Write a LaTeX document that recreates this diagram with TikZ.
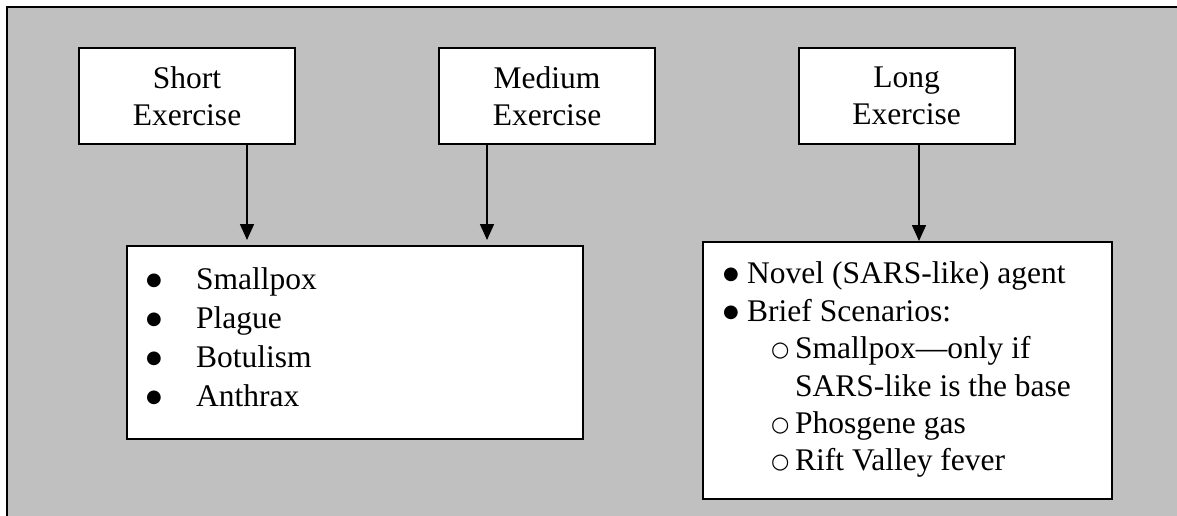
\documentclass[tikz,border=0pt]{standalone}
\usepackage{fontspec}
\setmainfont{Liberation Serif}
\newfontfamily\symfont{DejaVu Sans}
\usetikzlibrary{arrows.meta}
\definecolor{panelgrey}{HTML}{C0C0C0}
\newcommand{\bigbul}{\raisebox{4pt}{\fontsize{18}{20}\symfont ●}}
\newcommand{\subbul}{\raisebox{1.5pt}{\fontsize{21}{22}\symfont ○}}
\tikzset{
  headbox/.style={draw=black, fill=white, line width=2pt, minimum width=216pt, minimum height=96pt, align=center, inner sep=0pt, font=\fontsize{31.5}{37}\selectfont},
  listbox/.style={draw=black, fill=white, line width=2pt, inner sep=0pt},
  itemtext/.style={anchor=base west, inner sep=0pt, font=\fontsize{31.5}{37}\selectfont},
  flow/.style={line width=1.6pt, -{Triangle[width=14pt,length=16pt]}}
}
\begin{document}
\begin{tikzpicture}[x=1pt,y=-1pt]
\useasboundingbox (0,0) rectangle (1177,516);
\fill[white] (0,0) rectangle (1177,516);
\fill[panelgrey] (7,7) rectangle (1177,516);
\draw[line width=2.2pt] (7,516) -- (7,7) -- (1177,7);

% header boxes
\node[headbox] (short) at (187,96) {Short\\Exercise};
\node[headbox] (medium) at (547,96) {Medium\\Exercise};
\node[headbox] (long) at (906.5,96) {Long\\Exercise};

% list boxes
\node[listbox, minimum width=456pt, minimum height=193pt] (leftlist) at (355,342.5) {};
\node[listbox, minimum width=409pt, minimum height=257pt] (rightlist) at (907.5,370.5) {};

% left list contents
\node[itemtext] (li1) at (146,289) {\makebox[50pt][l]{\bigbul}Smallpox};
\node[itemtext] (li2) at (146,328) {\makebox[50pt][l]{\bigbul}Plague};
\node[itemtext] (li3) at (146,367) {\makebox[50pt][l]{\bigbul}Botulism};
\node[itemtext] (li4) at (146,406) {\makebox[50pt][l]{\bigbul}Anthrax};

% right list contents
\node[itemtext] (ri1) at (723,283) {\makebox[24pt][l]{\bigbul}Novel (SARS-like) agent};
\node[itemtext] (ri2) at (723,321) {\makebox[24pt][l]{\bigbul}Brief Scenarios:};
\node[itemtext] (rj1) at (771,358) {\makebox[24pt][l]{\subbul}Smallpox—only if};
\node[itemtext] (rj1b) at (795,396) {SARS-like is the base};
\node[itemtext] (rj2) at (771,433) {\makebox[24pt][l]{\subbul}Phosgene gas};
\node[itemtext] (rj3) at (771,470) {\makebox[24pt][l]{\subbul}Rift Valley fever};

% connectors
\coordinate (a1end) at (247,240);
\coordinate (a2end) at (487,240);
\coordinate (a3end) at (919,241);
\draw[flow] (short.south -| a1end) -- (a1end);
\draw[flow] (medium.south -| a2end) -- (a2end);
\draw[flow] (long.south -| a3end) -- (a3end);
\end{tikzpicture}
\end{document}
